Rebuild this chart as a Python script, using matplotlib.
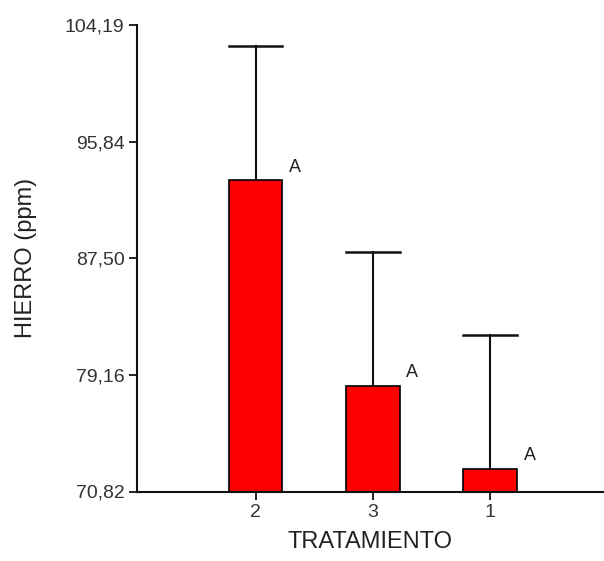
import numpy as np
import matplotlib
matplotlib.use('Agg')
import matplotlib.pyplot as plt

plt.rcParams['font.family'] = ['Liberation Sans', 'DejaVu Sans']

# treatment means of iron and the upper end of each error bar
tratamientos = ['2', '3', '1']
medias = [93.08, 78.37, 72.43]
superior = [102.69, 87.97, 82.01]
letras = ['A', 'A', 'A']
yticks = [70.82, 79.16, 87.50, 95.84, 104.19]

DPI = 100
fig = plt.figure(figsize=(604/DPI, 561/DPI), dpi=DPI)
ax = fig.add_axes([137/604, 1 - 491.5/561, 1 - 137/604, (491.5 - 25)/561])

x = np.arange(len(tratamientos))
ymin = yticks[0]
width = 0.46
ax.bar(x, np.array(medias) - ymin, bottom=ymin, width=width,
       color='#ff0000', edgecolor='black', linewidth=1.2, zorder=2)

# only the upper half of the error bars is shown
err = np.array(superior) - np.array(medias)
for xi, m, e in zip(x, medias, err):
    ax.plot([xi, xi], [m, m + e], color='#111111', lw=1.5, zorder=1)
    ax.plot([xi - width/2, xi + width/2], [m + e, m + e], color='#111111', lw=1.8, zorder=1)

for xi, m, letra in zip(x, medias, letras):
    ax.annotate(letra, (xi + width/2, m), xytext=(9, 9.5), textcoords='offset points',
                ha='center', va='center', fontsize=13, color='#222222')

ax.set_xlim(-1.01, 2.97)
ax.set_ylim(ymin, yticks[-1])
ax.set_xticks(x)
ax.set_xticklabels(tratamientos)
ax.set_yticks(yticks)
ax.set_yticklabels([('%.2f' % t).replace('.', ',') for t in yticks])

ax.spines['top'].set_visible(False)
ax.spines['right'].set_visible(False)
for s in ['left', 'bottom']:
    ax.spines[s].set_linewidth(1.5)
    ax.spines[s].set_color('#111111')
ax.tick_params(direction='out', length=6, width=1.3, labelsize=14,
               labelcolor='#333333', color='#111111', pad=3)

ax.set_xlabel('TRATAMIENTO', fontsize=17, color='#222222', labelpad=7)
ax.set_ylabel('HIERRO (ppm)', fontsize=17, color='#222222', labelpad=20)

plt.savefig('out.png', dpi=DPI, facecolor='w')
